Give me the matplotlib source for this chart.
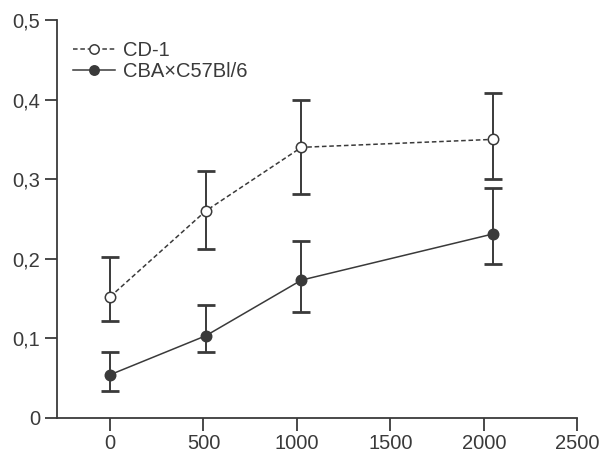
import numpy as np
from matplotlib import pyplot as plt

# dose values and group means / error limits
doses = [0, 512, 1024, 2048]

cd1_mean = [0.152, 0.260, 0.340, 0.350]
cd1_upper = [0.202, 0.310, 0.399, 0.408]
cd1_lower = [0.122, 0.212, 0.281, 0.300]

cba_mean = [0.054, 0.103, 0.173, 0.231]
cba_upper = [0.083, 0.142, 0.222, 0.289]
cba_lower = [0.033, 0.083, 0.133, 0.193]

x_ticks = [0, 500, 1000, 1500, 2000, 2500]
y_ticks = [0, 0.1, 0.2, 0.3, 0.4, 0.5]
y_labels = ['0', '0,1', '0,2', '0,3', '0,4', '0,5']

col = '#3a3a3a'
plt.rcParams['font.family'] = ['Liberation Sans', 'DejaVu Sans']
plt.rcParams['font.size'] = 14.5

fig = plt.figure(figsize=(6, 4.57), dpi=100)
ax = fig.add_axes([0.095, 0.086, 0.867, 0.87])


def draw(mean, upper, lower, fill, ls, label):
    mean = np.array(mean)
    err = [mean - np.array(lower), np.array(upper) - mean]
    ax.errorbar(doses, mean, yerr=err, fmt='none', ecolor=col, elinewidth=1.4,
                capsize=6.5, capthick=2, zorder=2)
    line, = ax.plot(doses, mean, color=col, lw=1.1, ls=ls, marker='o', ms=7.5,
                    mfc=fill, mec=col, mew=1.1, label=label, zorder=3)
    return line


h1 = draw(cd1_mean, cd1_upper, cd1_lower, 'white', (0, (3, 1.8)), 'CD-1')
h2 = draw(cba_mean, cba_upper, cba_lower, col, '-', 'CBA×C57Bl/6')

ax.set_xlim(-284, 2500)
ax.set_ylim(0, 0.5)
ax.set_xticks(x_ticks)
ax.set_yticks(y_ticks)
ax.set_yticklabels(y_labels)

for s in ['top', 'right']:
    ax.spines[s].set_visible(False)
for s in ['left', 'bottom']:
    ax.spines[s].set_color(col)
    ax.spines[s].set_linewidth(1.3)
ax.tick_params(direction='out', length=9, width=1.3, color=col, labelcolor=col)
ax.tick_params(axis='x', pad=3)
ax.tick_params(axis='y', pad=3)

leg = ax.legend(handles=[h1, h2], loc='upper left', bbox_to_anchor=(-0.005, 0.993),
                frameon=False, handlelength=2.1, handletextpad=0.4,
                labelspacing=0.1, markerscale=0.9)
for t in leg.get_texts():
    t.set_color(col)

fig.savefig('out.png', dpi=100)
